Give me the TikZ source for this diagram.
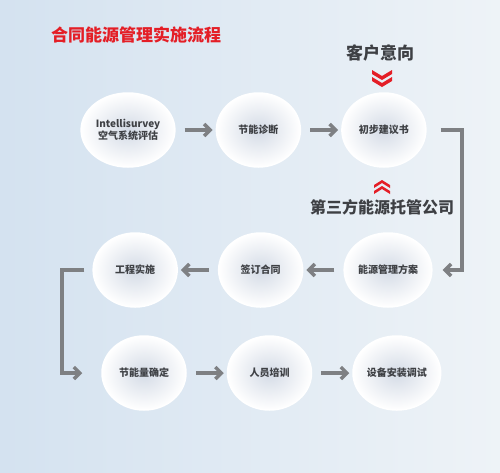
\documentclass[tikz,border=0pt]{standalone}
\usepackage{fontspec}
\setmainfont{Noto Sans CJK SC}
\usetikzlibrary{arrows.meta, positioning, shapes.geometric}

\definecolor{bgleft}{RGB}{212,226,240}
\definecolor{bgright}{RGB}{238,243,247}
\definecolor{blobgray}{RGB}{212,219,230}
\definecolor{flowgray}{RGB}{126,128,131}
\definecolor{titlered}{RGB}{228,30,38}
\definecolor{textgray}{RGB}{62,64,68}

\begin{document}
\begin{tikzpicture}[
    x=1pt, y=-1pt,
    node distance=40pt and 40pt,
    stage/.style={
        ellipse,
        minimum width=84pt,
        minimum height=74pt,
        inner sep=1pt,
        align=center,
        shade,
        inner color=blobgray,
        outer color=white,
        draw=white,
        line width=1.5pt,
        text=textgray,
        font=\fontsize{10}{12}\selectfont\bfseries
    },
    flow/.style={-{Straight Barb[length=6pt,width=12pt]}, line width=3.5pt,
        draw=flowgray, shorten <=9pt, shorten >=3pt},
    caption/.style={text=textgray, font=\fontsize{16}{18}\selectfont\bfseries},
    chev/.style={fill=titlered}
]
\shade[left color=bgleft, right color=bgright] (0,0) rectangle (500,472);
\useasboundingbox (0,0) rectangle (500,472);

\node[font=\fontsize{17}{19}\selectfont\bfseries, text=titlered] (title) at (136,35) {合同能源管理实施流程};
\node[caption, font=\fontsize{17}{19}\selectfont\bfseries] (client) at (380,53) {客户意向};
\node[caption] (third) at (382,207) {第三方能源托管公司};

% first row
\node[stage] (s1) at (128,130) {Intellisurvey\\空气系统评估};
\node[stage, right=of s1] (s2) {节能诊断};
\node[stage, right=of s2] (s3) {初步建议书};
% second row
\node[stage] (s6) at (388,270) {能源管理方案};
\node[stage, left=of s6] (s7) {签订合同};
\node[stage, left=of s7] (s8) {工程实施};
% third row
\node[stage] (s9) at (144,373) {节能量确定};
\node[stage, right=of s9] (s10) {人员培训};
\node[stage, right=of s10] (s11) {设备安装调试};

\coordinate (rturn) at (462,200);
\coordinate (lturn) at (62,320);

\draw[flow] (s1) -- (s2);
\draw[flow] (s2) -- (s3);
\draw[flow, shorten <=14pt, shorten >=10pt] (s3.east) -- (s3.east -| rturn) |- (s6.east);
\draw[flow] (s6) -- (s7);
\draw[flow] (s7) -- (s8);
\draw[flow, shorten <=8pt, shorten >=19pt] (s8.west) -- (s8.west -| lturn) |- (s9.west);
\draw[flow] (s9) -- (s10);
\draw[flow] (s10) -- (s11);

% red chevrons
\foreach \dy in {0,7}
    \fill[chev] (372,70+\dy) -- (382,76+\dy) -- (392,70+\dy) -- (392,74+\dy)
        -- (382,80+\dy) -- (372,74+\dy) -- cycle;
\foreach \dy in {0,6}
    \fill[chev] (374,185+\dy) -- (382,180+\dy) -- (390,185+\dy) -- (390,188+\dy)
        -- (382,183+\dy) -- (374,188+\dy) -- cycle;
\end{tikzpicture}
\end{document}
